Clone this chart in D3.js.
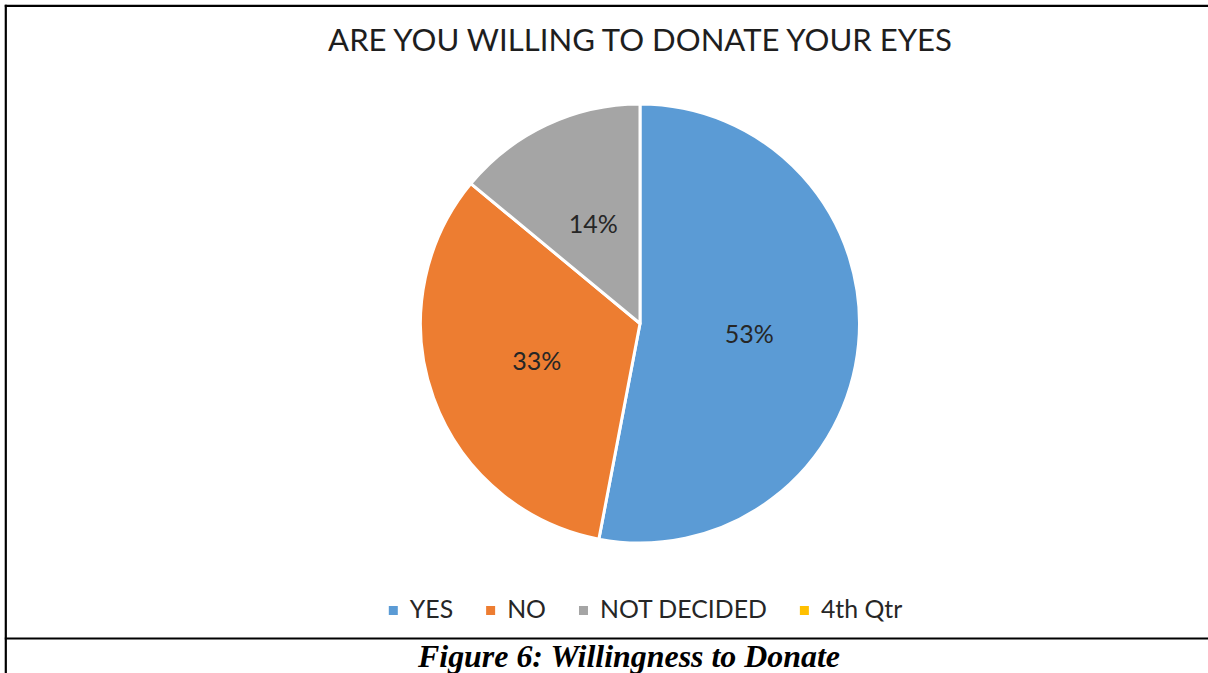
<!DOCTYPE html>
<html>
<head>
<meta charset="utf-8">
<script src="https://cdn.jsdelivr.net/npm/d3@7/dist/d3.min.js"></script>
<style>
  html, body { margin: 0; padding: 0; background: #fff; }
  svg { display: block; }
</style>
</head>
<body>
<svg id="chart" width="1208" height="673"></svg>
<script>
// Survey answers: willingness to donate eyes
const categories = ["YES", "NO", "NOT DECIDED", "4th Qtr"];
const shares = [53, 33, 14, 0];
const sliceColors = ["#5B9BD5", "#ED7D31", "#A5A5A5", "#FFC000"];
const chartTitle = "ARE YOU WILLING TO DONATE YOUR EYES";
const figureCaption = "Figure 6: Willingness to Donate";

const data = categories.map((c, i) => ({ name: c, value: shares[i], color: sliceColors[i] }));

const svg = d3.select("#chart");
const W = 1208, H = 673;
const sans = "Lato, 'Open Sans', sans-serif";

// scale a text element's font size so its rendered width equals target
function fitWidth(sel, target) {
  const size = parseFloat(sel.attr("font-size"));
  const w = sel.node().getComputedTextLength();
  sel.attr("font-size", size * target / w);
}

// frame lines (table cell borders)
const frame = svg.append("g").attr("stroke", "#000").attr("stroke-width", 2.2);
frame.append("line").attr("x1", 5.8).attr("x2", 5.8).attr("y1", 4.8).attr("y2", H);
frame.append("line").attr("x1", 4.8).attr("x2", W).attr("y1", 5.8).attr("y2", 5.8);
frame.append("line").attr("x1", 4.8).attr("x2", W).attr("y1", 638.5).attr("y2", 638.5);

// title
const title = svg.append("text")
  .attr("x", 640).attr("y", 50.5)
  .attr("text-anchor", "middle")
  .attr("font-family", sans)
  .attr("font-size", 30)
  .attr("fill", "#1e1e1e")
  .text(chartTitle);
fitWidth(title, 624);

// pie
const cx = 640, cy = 323.5, R = 219.5;
const pie = d3.pie().sort(null).value(d => d.value);
const arcs = pie(data);
const arc = d3.arc().innerRadius(0).outerRadius(R);

const g = svg.append("g").attr("transform", `translate(${cx},${cy})`);
g.selectAll("path.slice")
  .data(arcs.filter(a => a.data.value > 0))
  .join("path")
  .attr("class", "slice")
  .attr("d", arc)
  .attr("fill", d => d.data.color)
  .attr("stroke", "#fff")
  .attr("stroke-width", 3)
  .attr("stroke-linejoin", "round");

// percentage labels at the slice centroids
const fmt = d3.format(".0%");
g.selectAll("text.lbl")
  .data(arcs.filter(a => a.data.value > 0))
  .join("text")
  .attr("class", "lbl")
  .attr("transform", d => `translate(${arc.centroid(d)})`)
  .attr("text-anchor", "middle")
  .attr("dy", "0.36em")
  .attr("font-family", sans)
  .attr("font-size", 25)
  .attr("fill", "#262626")
  .text(d => fmt(d.data.value / d3.sum(shares)));

// legend
const legend = svg.append("g");
const items = legend.selectAll("g.item").data(data).join("g").attr("class", "item");
items.append("rect")
  .attr("width", 9).attr("height", 9)
  .attr("y", -12)
  .attr("fill", d => d.color);
const ltext = items.append("text")
  .attr("x", 21)
  .attr("font-family", sans)
  .attr("font-size", 23)
  .attr("fill", "#262626")
  .text(d => d.name);
// common size from the widest entry
const probe = ltext.filter(d => d.name === "NOT DECIDED");
const baseSize = 23;
const scaleF = 167 / probe.node().getComputedTextLength();
ltext.attr("font-size", baseSize * scaleF);
let xpos = 0;
const offsets = [];
ltext.each(function () {
  offsets.push(xpos);
  xpos += 21 + this.getComputedTextLength() + 33;
});
const totalW = xpos - 33;
items.attr("transform", (d, i) => `translate(${offsets[i]},0)`);
legend.attr("transform", `translate(${645.5 - totalW / 2},618)`);

// figure caption (condensed bold italic serif)
svg.append("text")
  .attr("x", 629).attr("y", 666.5)
  .attr("text-anchor", "middle")
  .attr("font-family", "'Liberation Serif', 'Times New Roman', serif")
  .attr("font-weight", "bold")
  .attr("font-style", "italic")
  .attr("font-size", 32.5)
  .attr("textLength", 422)
  .attr("lengthAdjust", "spacingAndGlyphs")
  .attr("fill", "#000")
  .text(figureCaption);
</script>
</body>
</html>
